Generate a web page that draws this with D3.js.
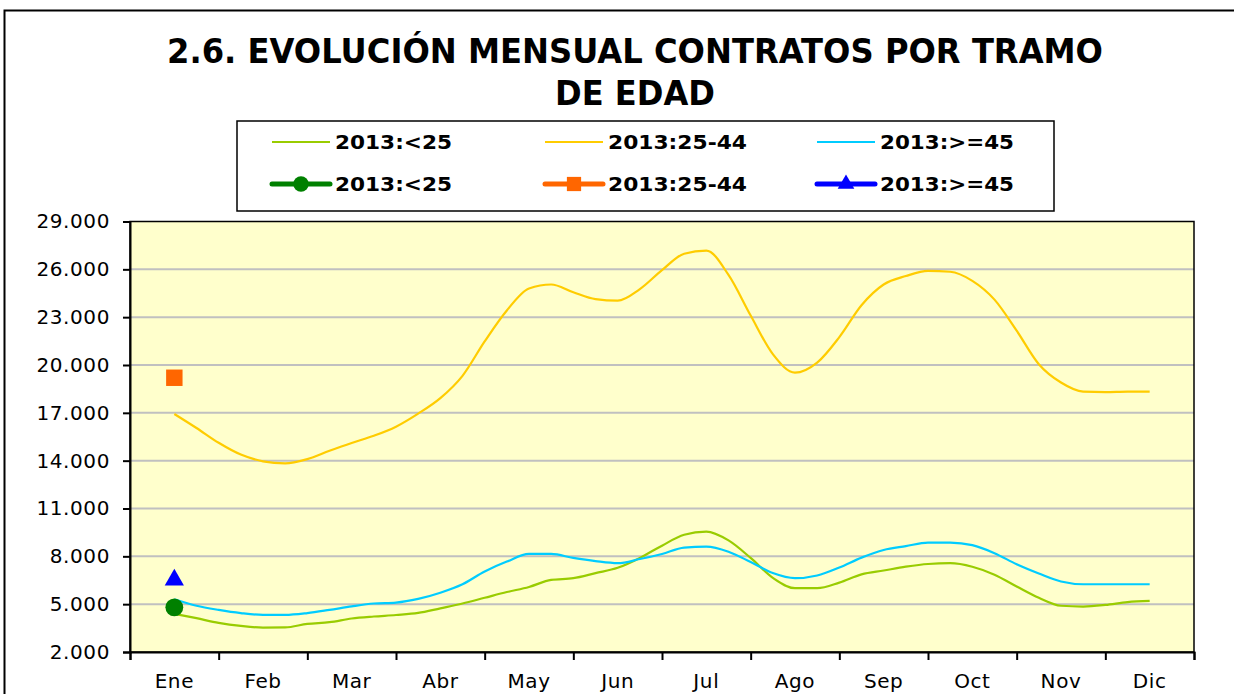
<!DOCTYPE html>
<html>
<head>
<meta charset="utf-8">
<script src="https://cdn.jsdelivr.net/npm/d3@7"></script>
<style>
  html, body { margin: 0; padding: 0; background: #fff; }
  svg { display: block; font-family: Verdana, "DejaVu Sans", sans-serif; }
</style>
</head>
<body>
<svg id="chart" width="1234" height="694"></svg>
<script>
// ---------- DATA ----------
const months = ["Ene","Feb","Mar","Abr","May","Jun","Jul","Ago","Sep","Oct","Nov","Dic"];
const yTicks = [2000, 5000, 8000, 11000, 14000, 17000, 20000, 23000, 26000, 29000];
// weekly samples (every quarter month) from mid-Ene to mid-Dic
const sampleStep = 0.25;
const under25 = [4390,4120,3830,3637,3531,3540,3765,3870,4100,4225,4320,4450,4740,5040,5400,5760,6080,6520,6630,6950,7280,7900,8670,9350,9550,9000,7900,6650,6000,6000,6350,6870,7110,7350,7520,7570,7350,6850,6110,5400,4900,4850,4950,5130,5205];
const age25to44 = [16930,16050,15120,14380,13960,13830,14100,14620,15110,15560,16130,16950,17920,19320,21480,23420,24800,25050,24560,24130,24035,24760,25950,26980,27170,25650,23100,20680,19520,20150,21750,23750,25050,25580,25900,25850,25280,24100,22150,20050,18900,18330,18300,18330,18330];
const over45 = [5310,4900,4640,4440,4327,4327,4440,4640,4860,5040,5100,5330,5720,6250,7050,7670,8150,8150,7900,7700,7570,7830,8150,8550,8610,8290,7640,6950,6630,6800,7300,7920,8400,8640,8860,8860,8700,8200,7500,6920,6420,6250,6250,6250,6250];
// 2013 marker series: only January value
const markUnder25 = [4800];
const mark25to44 = [19200];
const markOver45 = [6520];
const legendLabels = ["2013:<25", "2013:25-44", "2013:>=45"];
const titleLines = ["2.6. EVOLUCIÓN MENSUAL CONTRATOS POR TRAMO", "DE EDAD"];

// ---------- STYLE ----------
const lineColors = ["#99CC00", "#FFCC00", "#00CCFF"];
const markColors = ["#008000", "#FF6600", "#0000FF"];

const svg = d3.select("#chart");
const plot = { left: 130, right: 1194, top: 221.5, bottom: 652 };

// outer chart border
svg.append("rect").attr("x", 4.5).attr("y", 10.5).attr("width", 1240).attr("height", 700)
  .attr("fill", "#fff").attr("stroke", "#000").attr("stroke-width", 2);

// title
const titleWidths = [936, 160];
svg.append("g").selectAll("text").data(titleLines).join("text")
  .attr("x", 635).attr("y", (d, i) => 63 + i * 42)
  .attr("text-anchor", "middle")
  .attr("font-family", "Verdana, 'DejaVu Sans', sans-serif")
  .attr("font-weight", "bold").attr("font-size", 33)
  .attr("textLength", (d, i) => titleWidths[i])
  .attr("lengthAdjust", "spacingAndGlyphs")
  .text(d => d);

// scales
const x = d3.scaleLinear().domain([-0.5, 11.5]).range([plot.left, plot.right]);
const xBand = d3.scaleBand().domain(months).range([plot.left, plot.right]);
const y = d3.scaleLinear().domain([2000, 29000]).range([plot.bottom, plot.top]);
const loc = d3.formatLocale({ decimal: ",", thousands: ".", grouping: [3], currency: ["", "€"] });
const fmt = loc.format(",.0f");

// plot background
svg.append("rect").attr("x", plot.left).attr("y", plot.top)
  .attr("width", plot.right - plot.left).attr("height", plot.bottom - plot.top)
  .attr("fill", "#FFFFCC");

// gridlines
svg.append("g").selectAll("line").data(yTicks.slice(1, -1)).join("line")
  .attr("x1", plot.left).attr("x2", plot.right)
  .attr("y1", d => y(d)).attr("y2", d => y(d))
  .attr("stroke", "#C0C0C0").attr("stroke-width", 2);

// plot border
svg.append("rect").attr("x", plot.left).attr("y", plot.top)
  .attr("width", plot.right - plot.left).attr("height", plot.bottom - plot.top)
  .attr("fill", "none").attr("stroke", "#000").attr("stroke-width", 1.5);

// y axis
const yAxis = svg.append("g").attr("transform", `translate(${plot.left},0)`)
  .call(d3.axisLeft(y).tickValues(yTicks).tickFormat(fmt).tickSize(7).tickPadding(13));
yAxis.select(".domain").attr("stroke", "#000").attr("stroke-width", 2);
yAxis.selectAll(".tick line").attr("stroke", "#000").attr("stroke-width", 2);
yAxis.selectAll("text").attr("font-size", 20).attr("fill", "#000")
  .attr("font-family", "Verdana, 'DejaVu Sans', sans-serif").attr("letter-spacing", 0.6);

// x axis: ticks at category boundaries
const xTickVals = d3.range(-0.5, 12, 1);
const xAxis = svg.append("g").attr("transform", `translate(0,${plot.bottom})`)
  .call(d3.axisBottom(x).tickValues(xTickVals).tickFormat("").tickSize(8));
xAxis.select(".domain").attr("stroke", "#000").attr("stroke-width", 2);
xAxis.selectAll(".tick line").attr("stroke", "#000").attr("stroke-width", 2);
const xLab = svg.append("g").attr("transform", `translate(0,${plot.bottom})`)
  .call(d3.axisBottom(xBand).tickSize(0).tickPadding(22));
xLab.select(".domain").remove();
xLab.selectAll("text").attr("font-size", 20).attr("fill", "#000")
  .attr("font-family", "Verdana, 'DejaVu Sans', sans-serif").attr("letter-spacing", 0.6);

// lines
const series = [under25, age25to44, over45];
const line = d3.line().x((d, i) => x(i * sampleStep)).y(d => y(d)).curve(d3.curveMonotoneX);
svg.append("g").selectAll("path").data(series).join("path")
  .attr("d", d => line(d)).attr("fill", "none")
  .attr("stroke", (d, i) => lineColors[i]).attr("stroke-width", 2.2)
  .attr("stroke-linejoin", "round");

// marker series
const sym = [d3.symbolCircle, d3.symbolSquare, d3.symbolTriangle];
const symSize = [250, 270, 160];
const marks = [markUnder25, mark25to44, markOver45];
marks.forEach((arr, k) => {
  svg.append("g").selectAll("path").data(arr).join("path")
    .attr("transform", (d, i) => `translate(${x(i)},${y(d)})`)
    .attr("d", d3.symbol().type(sym[k]).size(symSize[k]))
    .attr("fill", markColors[k]);
});

// legend
const lg = svg.append("g");
lg.append("rect").attr("x", 237).attr("y", 121).attr("width", 817).attr("height", 90)
  .attr("fill", "#fff").attr("stroke", "#000").attr("stroke-width", 1.5);
const colX = [272, 545, 817];
const rowY = [142, 184];
const labelWidths = [117, 139, 134];
legendLabels.forEach((lab, i) => {
  // row 1 : thin line series
  lg.append("line").attr("x1", colX[i]).attr("x2", colX[i] + 58)
    .attr("y1", rowY[0]).attr("y2", rowY[0])
    .attr("stroke", lineColors[i]).attr("stroke-width", 2);
  // row 2 : marker series
  lg.append("line").attr("x1", colX[i]).attr("x2", colX[i] + 58)
    .attr("y1", rowY[1]).attr("y2", rowY[1])
    .attr("stroke", markColors[i]).attr("stroke-width", 5).attr("stroke-linecap", "round");
  lg.append("path").attr("transform", `translate(${colX[i] + 29},${rowY[1]})`)
    .attr("d", d3.symbol().type(sym[i]).size(symSize[i] * 0.75))
    .attr("fill", markColors[i]);
  rowY.forEach(ry => {
    lg.append("text").attr("x", colX[i] + 63).attr("y", ry + 7)
      .attr("font-weight", "bold").attr("font-size", 19)
      .attr("textLength", labelWidths[i]).attr("lengthAdjust", "spacingAndGlyphs")
      .text(lab);
  });
});
</script>
</body>
</html>
